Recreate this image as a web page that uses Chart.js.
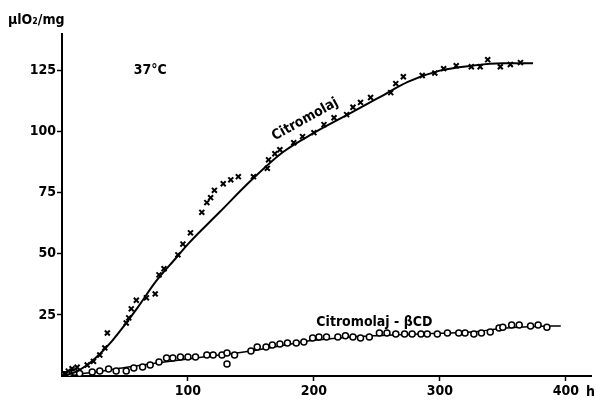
<!DOCTYPE html>
<html>
<head>
<meta charset="utf-8">
<script src="https://cdn.jsdelivr.net/npm/chart.js@4/dist/chart.umd.min.js"></script>
<style>
  html, body { margin: 0; padding: 0; background: #fff; }
  #wrap { width: 597px; height: 402px; }
</style>
</head>
<body>
<div id="wrap"><canvas id="canvas"></canvas></div>
<script>
// measured points, Citromolaj (x marks)
const citroT = [2, 5, 8, 12, 20, 25, 30, 34, 36, 51, 53, 55, 59, 67, 74, 77, 81, 92, 96, 102, 111, 115, 118, 121, 128, 134, 140, 152, 163, 164, 169, 173, 184, 191, 200, 208, 216, 226, 231, 237, 245, 261, 265, 271, 286, 296, 303, 313, 325, 332, 338, 348, 356, 364]
const citroV = [1, 2, 3, 3.6, 4.5, 6, 8.6, 11.5, 17.6, 21.7, 23.8, 27.5, 31, 32, 33.6, 41.4, 43.9, 49.6, 54, 58.6, 67, 71, 73, 76, 78.7, 80.3, 81.6, 81.6, 85, 88.5, 91, 92.6, 95.5, 98, 99.6, 102.9, 105.7, 107, 110, 112, 114, 116, 119.7, 122.5, 123, 124, 125.8, 127, 126.6, 126.6, 129.5, 126.6, 127.5, 128.3]

// fitted curve, Citromolaj
const citroCurveT = [0, 10, 20, 30, 40, 50, 60, 75, 90, 100, 125, 150, 175, 200, 225, 250, 275, 300, 325, 350, 374]
const citroCurveV = [0, 1.5, 4.5, 9, 14.5, 21, 28, 39, 48, 54, 67, 80, 91.5, 99.5, 106.5, 113.5, 120.5, 125, 127, 128, 128]

// measured points, Citromolaj - βCD (circles)
const bcdT = [2, 6, 10, 14, 24, 30, 37, 43, 51, 57, 64, 70, 77, 83, 88, 94, 100, 106, 115, 120, 127, 131, 131, 137, 150, 155, 162, 167, 173, 179, 186, 192, 199, 204, 210, 219, 225, 231, 237, 244, 252, 258, 265, 272, 278, 285, 290, 298, 306, 315, 320, 327, 333, 340, 347, 350, 357, 363, 372, 378, 385]
const bcdV = [0.5, 1, 1.5, 1, 1.6, 2, 2.9, 2, 2, 3.3, 3.7, 4.5, 5.7, 7.4, 7.4, 7.8, 7.8, 7.8, 8.6, 8.6, 8.6, 9.4, 4.9, 8.6, 10.2, 11.9, 11.9, 12.7, 13.1, 13.5, 13.5, 13.9, 15.6, 16, 16, 16, 16.5, 16, 15.6, 16, 17.6, 17.6, 17.2, 17.2, 17.2, 17.2, 17.2, 17.2, 17.6, 17.6, 17.6, 17.2, 17.6, 18, 19.7, 20, 20.9, 20.9, 20.5, 20.9, 20]

// fitted curve, Citromolaj - βCD
const bcdCurveT = [0, 25, 50, 75, 100, 125, 150, 175, 200, 225, 250, 275, 300, 325, 350, 375, 396]
const bcdCurveV = [0, 1.5, 3.5, 5.3, 7, 8.6, 10.2, 12.5, 14.6, 15.8, 16.5, 17, 17.5, 18, 19.5, 20.3, 20.5]

const yTicks = [25, 50, 75, 100, 125]
const xTicks = [100, 200, 300, 400]

const FONT = '"DejaVu Sans Condensed", "DejaVu Sans", sans-serif'

function pts(xs, ys) {
  return xs.map((x, i) => ({ x: x, y: ys[i] }))
}

// free text labels placed in data coordinates
const notes = [
  { text: '37°C', t: 70, v: 125, rot: 0 },
  { text: 'Citromolaj', t: 193, v: 105, rot: -29 },
  { text: 'Citromolaj - βCD', t: 248, v: 22, rot: 0 },
]

const textPlugin = {
  id: 'texts',
  afterDraw(chart) {
    const ctx = chart.ctx
    const xs = chart.scales.x
    const ys = chart.scales.y
    ctx.save()
    ctx.fillStyle = '#000'
    ctx.font = 'bold 14px ' + FONT
    ctx.textAlign = 'center'
    ctx.textBaseline = 'middle'
    notes.forEach(n => {
      ctx.save()
      ctx.translate(xs.getPixelForValue(n.t), ys.getPixelForValue(n.v))
      ctx.rotate(n.rot * Math.PI / 180)
      ctx.fillText(n.text, 0, 0)
      ctx.restore()
    })
    // axis titles
    ctx.textAlign = 'left'
    ctx.fillText('μlO₂/mg', 8, 20)
    ctx.fillText('h', 586, 392)
    ctx.restore()
  },
}

const data = {
  datasets: [
    {
      label: 'Citromolaj',
      data: pts(citroT, citroV),
      pointStyle: 'crossRot',
      pointRadius: 3.5,
      borderColor: '#000',
      borderWidth: 2,
      showLine: false,
    },
    {
      label: 'Citromolaj fit',
      data: pts(citroCurveT, citroCurveV),
      showLine: true,
      pointRadius: 0,
      borderColor: '#000',
      borderWidth: 2,
      cubicInterpolationMode: 'monotone',
    },
    {
      label: 'Citromolaj - βCD',
      data: pts(bcdT, bcdV),
      pointStyle: 'circle',
      pointRadius: 3,
      borderColor: '#000',
      backgroundColor: '#fff',
      borderWidth: 1.5,
      showLine: false,
    },
    {
      label: 'Citromolaj - βCD fit',
      data: pts(bcdCurveT, bcdCurveV),
      showLine: true,
      pointRadius: 0,
      borderColor: '#000',
      borderWidth: 1.5,
      cubicInterpolationMode: 'monotone',
    },
  ],
}

const config = {
  type: 'scatter',
  data: data,
  plugins: [textPlugin],
  options: {
    responsive: true,
    maintainAspectRatio: false,
    animation: false,
    layout: { padding: { top: 34, right: 5, left: 0, bottom: 0 } },
    plugins: { legend: { display: false }, tooltip: { enabled: false } },
    scales: {
      x: {
        type: 'linear',
        min: 0,
        max: 420,
        afterFit: s => { s.height = 26 },
        afterBuildTicks: s => { s.ticks = xTicks.map(v => ({ value: v })) },
        border: { display: true, color: '#000', width: 2 },
        grid: { drawOnChartArea: false, drawTicks: true, tickLength: 5, color: '#000', tickWidth: 1.5 },
        ticks: { color: '#000', padding: 2, maxRotation: 0, font: { family: FONT, size: 14, weight: 'bold' } },
      },
      y: {
        type: 'linear',
        min: 0,
        max: 140,
        afterFit: s => { s.width = 62 },
        afterBuildTicks: s => { s.ticks = yTicks.map(v => ({ value: v })) },
        border: { display: true, color: '#000', width: 2 },
        grid: { drawOnChartArea: false, drawTicks: true, tickLength: 5, color: '#000', tickWidth: 1.5 },
        ticks: { color: '#000', padding: 1, font: { family: FONT, size: 14, weight: 'bold' } },
      },
    },
  },
}

const canvas = document.getElementById('canvas')
const chart = new Chart(canvas, config)
</script>
</body>
</html>
